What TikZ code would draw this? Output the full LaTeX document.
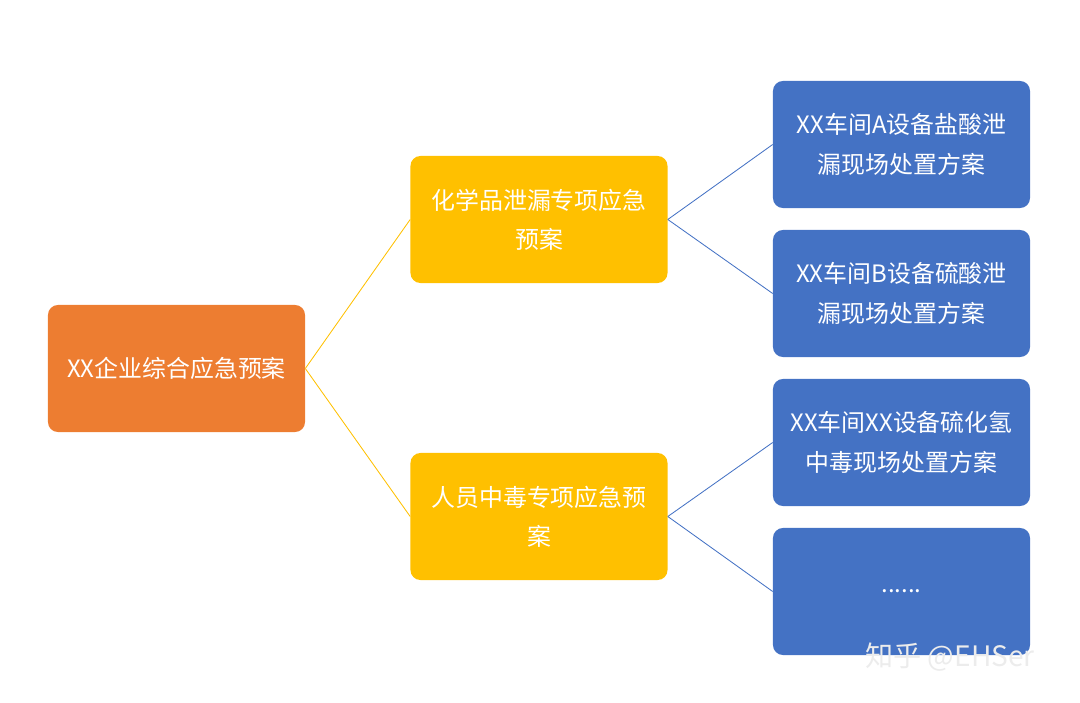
\documentclass[tikz,border=0pt]{standalone}
\usepackage{fontspec}
\newfontfamily\cjk{Noto Sans CJK SC}
\definecolor{orng}{HTML}{ED7D31}
\definecolor{yel}{HTML}{FFC000}
\definecolor{blu}{HTML}{4472C4}
\begin{document}
\begin{tikzpicture}[x=0.025cm,y=-0.025cm,
  box/.style={rounded corners=0.25cm,minimum width=6.425cm,minimum height=3.175cm,text=white,align=center,font=\cjk\fontsize{17}{28}\selectfont,inner sep=0pt},
  ln/.style={line width=0.6pt}]
\useasboundingbox (0,0) rectangle (1080,703);
\node[box,fill=orng] (r) at (176.5,368.5) {XX企业综合应急预案};
\node[box,fill=yel] (y1) at (539,219.5) {化学品泄漏专项应急\\预案};
\node[box,fill=yel] (y2) at (539,516.5) {人员中毒专项应急预\\案};
\node[box,fill=blu] (b1) at (901.5,144.5) {XX车间A设备盐酸泄\\漏现场处置方案};
\node[box,fill=blu] (b2) at (901.5,293.5) {XX车间B设备硫酸泄\\漏现场处置方案};
\node[box,fill=blu] (b3) at (901.5,442.5) {XX车间XX设备硫化氢\\中毒现场处置方案};
\node[box,fill=blu] (b4) at (901.5,591.5) {......};
\draw[ln,yel] (r.east) -- (y1.west);
\draw[ln,yel] (r.east) -- (y2.west);
\draw[ln,blu] (y1.east) -- (b1.west);
\draw[ln,blu] (y1.east) -- (b2.west);
\draw[ln,blu] (y2.east) -- (b3.west);
\draw[ln,blu] (y2.east) -- (b4.west);
\node[text=white!85!gray,font=\cjk\fontsize{20}{24}\selectfont] (wm) at (950,657) {知乎 @EHSer};
\end{tikzpicture}
\end{document}
